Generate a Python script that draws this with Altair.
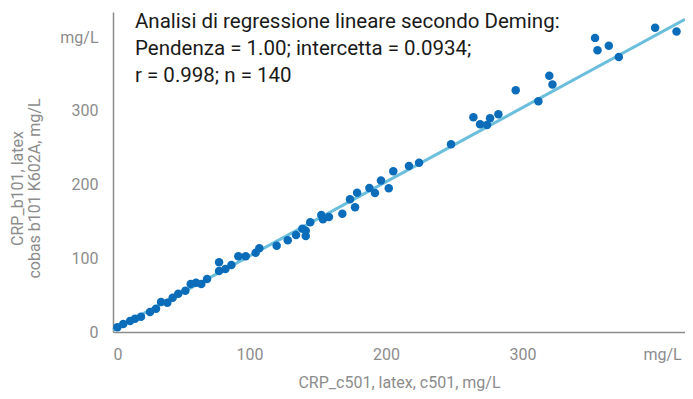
import altair as alt
import pandas as pd

# Data
x_vals = [3.2, 7.5, 12.5, 16.1, 20.5, 27.1, 31.5, 35.2, 39.8, 43.7,
          47.8, 53.0, 56.9, 60.8, 64.7, 68.9, 77.7, 77.7, 82.3, 86.7,
          91.8, 97.2, 104.5, 107.2, 119.9, 128.0, 134.1, 138.7, 141.2, 141.2,
          144.5, 152.6, 153.8, 158.2, 168.0, 173.6, 177.3, 178.8, 187.8, 191.9,
          196.3, 202.0, 205.3, 216.8, 224.2, 247.6, 264.0, 268.9, 274.0, 276.2,
          282.3, 295.0, 311.6, 319.6, 321.9, 353.1, 354.9, 363.2, 370.5, 397.1,
          412.8]
y_vals = [6.4, 10.9, 14.9, 18.0, 20.8, 27.1, 31.6, 40.7, 39.8, 46.5,
          52.0, 56.0, 65.1, 66.9, 65.1, 71.9, 82.8, 94.6, 85.5, 90.9,
          102.7, 102.7, 107.6, 113.6, 117.1, 124.4, 131.6, 140.2, 137.4, 130.3,
          148.8, 158.8, 152.9, 156.0, 160.5, 180.1, 169.2, 189.0, 195.4, 188.6,
          205.6, 195.0, 218.0, 225.2, 229.7, 254.7, 291.3, 281.8, 280.9, 290.0,
          295.4, 328.0, 313.0, 347.4, 335.6, 398.9, 382.2, 388.1, 373.1, 412.5,
          407.5]

# Deming regression line (endpoints)
line_x = [0, 419]
line_y = [2.5, 424]

tick_values = [0, 100, 200, 300, 400]
annotation = ["Analisi di regressione lineare secondo Deming:",
              "Pendenza = 1.00; intercetta = 0.0934;",
              "r = 0.998; n = 140"]
x_title = "CRP_c501, latex, c501, mg/L"
y_title = ["CRP_b101, latex", "cobas b101 K602A, mg/L"]

pts = pd.DataFrame({"x": x_vals, "y": y_vals})
ln = pd.DataFrame({"x": line_x, "y": line_y})

GRAY = "#8c8c8c"
FONT = "Roboto"

xscale = alt.Scale(domain=[0, 419], nice=False, zero=False)
yscale = alt.Scale(domain=[0, 434], nice=False, zero=False)

xaxis = alt.Axis(values=tick_values, title=x_title,
                 labelExpr="datum.value == 400 ? 'mg/L' : datum.label",
                 labelOffset={"condition": {"test": "datum.value == 400", "value": 3}, "value": 0},
                 labelPadding=14, titlePadding=12)
yaxis = alt.Axis(values=tick_values, title=y_title,
                 labelExpr="datum.value == 400 ? 'mg/L' : datum.label",
                 labelPadding=15, titlePadding=17, titleY=176, titleLineHeight=17)

line = alt.Chart(ln).mark_line(color="#6cbfdc", strokeWidth=3).encode(
    x=alt.X("x:Q", scale=xscale, axis=xaxis),
    y=alt.Y("y:Q", scale=yscale, axis=yaxis),
)

points = alt.Chart(pts).mark_circle(size=72, opacity=1, color="#0b6dba").encode(
    x=alt.X("x:Q", scale=xscale),
    y=alt.Y("y:Q", scale=yscale),
)

text = alt.Chart(pd.DataFrame({"t": [annotation]})).mark_text(
    align="left", baseline="alphabetic", font=FONT, fontSize=20.5,
    lineHeight=27, color="#1a1a1a"
).encode(
    x=alt.value(22), y=alt.value(16), text="t"
)

chart = alt.layer(line, points, text).properties(
    width=572, height=320,
    autosize="none",
    padding={"left": 105, "top": 4, "right": 0, "bottom": 59},
).configure_view(stroke=None).configure_axis(
    grid=False, ticks=False,
    domainColor=GRAY, domainWidth=1.5,
    labelFont=FONT, labelFontSize=16, labelColor=GRAY,
    titleFont=FONT, titleFontSize=16, titleColor=GRAY, titleFontWeight="normal",
)

chart.save("out.html", embed_options={"renderer": "svg", "actions": False})
